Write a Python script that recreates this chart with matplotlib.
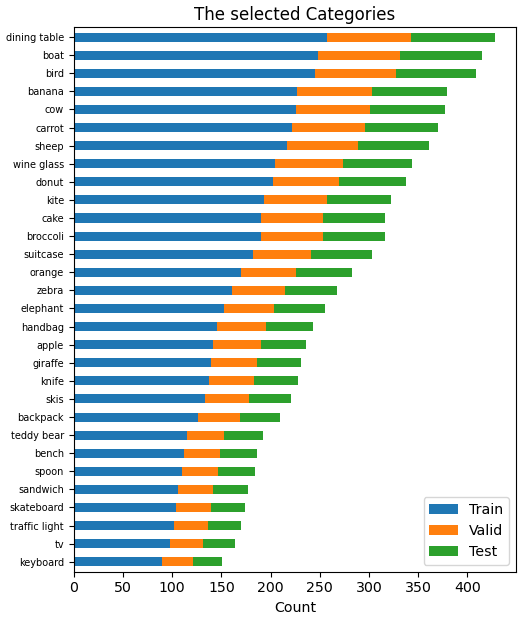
import matplotlib
matplotlib.use("Agg")
import matplotlib.pyplot as plt
import numpy as np

categories = ["dining table", "boat", "bird", "banana", "cow", "carrot", "sheep",
              "wine glass", "donut", "kite", "cake", "broccoli", "suitcase", "orange",
              "zebra", "elephant", "handbag", "apple", "giraffe", "knife", "skis",
              "backpack", "teddy bear", "bench", "spoon", "sandwich", "skateboard",
              "traffic light", "tv", "keyboard"]
train = [257, 248, 245, 227, 226, 222, 217, 205, 202, 193, 190, 190, 182, 170,
         161, 153, 146, 142, 139, 137, 133, 126, 115, 112, 110, 106, 104, 102, 98, 90]
valid = [86, 84, 82, 76, 75, 74, 72, 69, 68, 64, 63, 63, 59, 56,
         54, 50, 49, 48, 47, 46, 45, 43, 38, 37, 37, 36, 35, 34, 33, 31]
test = [85, 83, 82, 76, 76, 74, 72, 70, 68, 65, 63, 63, 62, 57,
        53, 52, 48, 46, 45, 45, 43, 41, 39, 37, 37, 35, 35, 34, 33, 30]
series_names = ["Train", "Valid", "Test"]
colors = ["#1f77b4", "#ff7f0e", "#2ca02c"]
xtick_values = [0, 50, 100, 150, 200, 250, 300, 350, 400]

# plot bottom-to-top (keyboard at bottom)
cats = categories[::-1]
data = [np.array(s[::-1]) for s in (train, valid, test)]

fig = plt.figure(figsize=(5.27, 6.17), dpi=100)
ax = fig.add_axes([0.140, 0.0734, 0.839, 0.8826])
y = np.arange(len(cats))
left = np.zeros(len(cats))
for name, vals, c in zip(series_names, data, colors):
    ax.barh(y, vals, height=0.5, left=left, color=c, label=name)
    left = left + vals

ax.set_yticks(y)
ax.set_yticklabels(cats, fontsize=7)
ax.set_ylim(-0.55, len(cats) - 0.45)
ax.set_xlim(0, left.max() * 1.05)
ax.set_xticks(xtick_values)
ax.tick_params(axis="x", labelsize=10.2)
ax.set_xlabel("Count", fontsize=10.2)
ax.set_title("The selected Categories", fontsize=12, pad=5)
ax.legend(loc="lower right", fontsize=10.2)
fig.savefig("out.png", dpi=100)
